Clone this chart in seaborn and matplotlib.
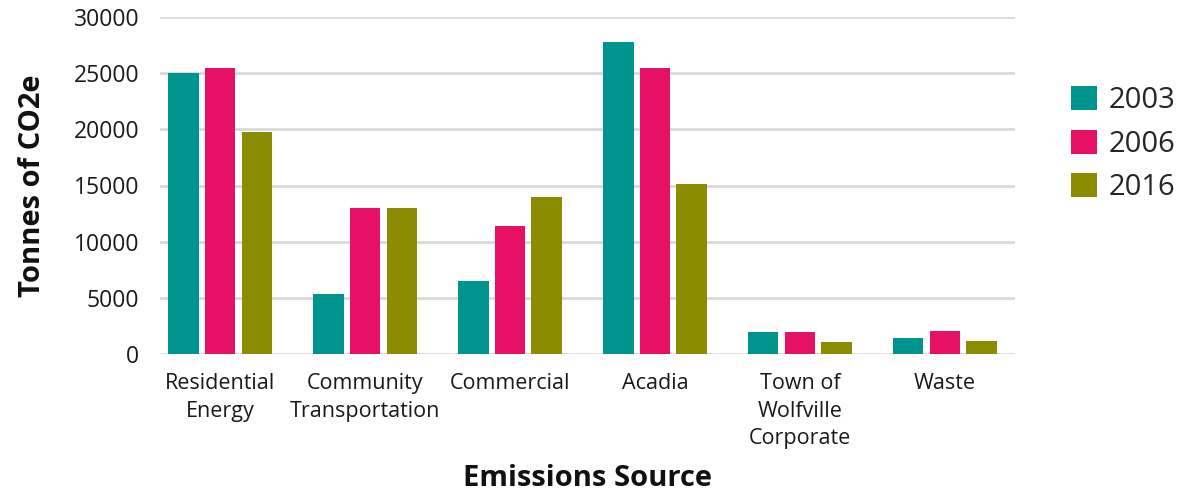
import matplotlib
matplotlib.use("Agg")
import matplotlib.pyplot as plt
import seaborn as sns
import pandas as pd

# Emissions by source (tonnes CO2e)
sources = ["Residential\nEnergy", "Community\nTransportation", "Commercial",
           "Acadia", "Town of\nWolfville\nCorporate", "Waste"]
years = ["2003", "2006", "2016"]
values_2003 = [25000, 5300, 6500, 27800, 2000, 1450]
values_2006 = [25500, 13000, 11400, 25500, 2000, 2050]
values_2016 = [19800, 13000, 14000, 15100, 1100, 1150]
colors = ["#00948F", "#E61065", "#8C8C00"]

df = pd.DataFrame({
    "source": sources * 3,
    "year": [y for y in years for _ in sources],
    "tonnes": values_2003 + values_2006 + values_2016,
})

sns.set_theme(style="white")
plt.rcParams["font.family"] = ["Open Sans", "DejaVu Sans"]

fig = plt.figure(figsize=(11.8, 4.92), dpi=100)
ax = fig.add_axes([160 / 1180, 1 - 354 / 492, (1015 - 160) / 1180, (354 - 17) / 492])

sns.barplot(data=df, x="source", y="tonnes", hue="year", palette=colors,
            width=0.76, gap=0.17, saturation=1, linewidth=0, ax=ax, legend=True)

ax.set_ylim(0, 30000)
ax.set_xlim(-0.414, 5.483)
ax.set_yticks(range(0, 30001, 5000))
ax.yaxis.grid(True, color="#d9d9d9", linewidth=2)
ax.set_axisbelow(True)
for s in ax.spines.values():
    s.set_visible(False)
ax.tick_params(axis="y", length=0, labelsize=16.5, colors="#1a1a1a", pad=15)
ax.tick_params(axis="x", length=0, labelsize=15.5, colors="#1a1a1a", pad=14)
for lbl in ax.get_xticklabels():
    lbl.set_linespacing(1.38)

ax.set_xlabel("Emissions Source", fontsize=21, fontweight="bold", labelpad=11,
              color="#111111")
ax.set_ylabel("Tonnes of CO2e", fontsize=21, fontweight="bold", labelpad=19,
              color="#111111")

handles, labels = ax.get_legend_handles_labels()
ax.legend_.remove()
fig.legend(handles, labels, loc="center left", bbox_to_anchor=(0.895, 0.707),
           frameon=False, fontsize=21, handlelength=0.89, handleheight=0.89,
           labelspacing=0.5, handletextpad=0.4, borderpad=0)

fig.savefig("out.png", dpi=100)
